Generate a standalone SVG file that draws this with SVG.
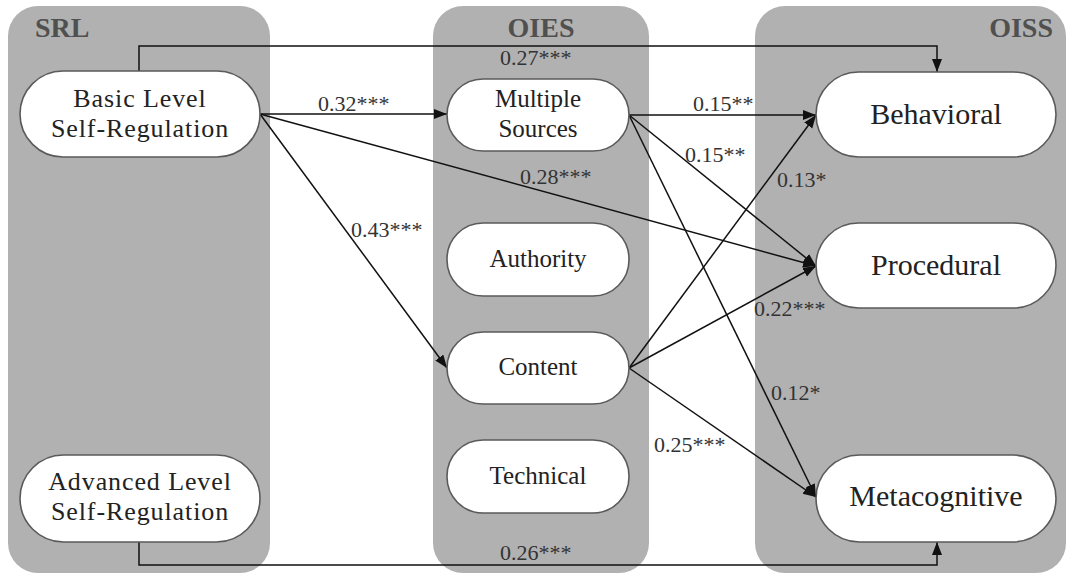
<svg xmlns="http://www.w3.org/2000/svg" width="1070" height="574" viewBox="0 0 1070 574">
<defs>
<marker id="arr" markerUnits="userSpaceOnUse" markerWidth="14" markerHeight="12" refX="13" refY="5" orient="auto">
<path d="M0,0 L13,5 L0,10 Z" fill="#111"/>
</marker>
<style>
.panel{fill:#b1b1b1;}
.ptitle{font-family:"Liberation Serif","Times New Roman",serif;font-weight:bold;font-size:28px;fill:#505050;}
.node{fill:#fff;stroke:#5a5a5a;stroke-width:1.6;}
.srl{font-family:"Liberation Serif","Times New Roman",serif;font-size:26px;letter-spacing:0.9px;fill:#222;text-anchor:middle;}
.oies{font-family:"Liberation Serif","Times New Roman",serif;font-size:25px;fill:#222;text-anchor:middle;}
.oiss{font-family:"Liberation Serif","Times New Roman",serif;font-size:30px;fill:#222;text-anchor:middle;}
.edge{fill:none;stroke:#111;stroke-width:1.5;marker-end:url(#arr);}
.lbl{font-family:"Liberation Serif","Times New Roman",serif;font-size:22px;fill:#333;}
</style>
</defs>
<g id="panels">
<rect class="panel" x="8" y="6" width="262" height="567" rx="30"/>
<rect class="panel" x="433" y="6" width="216" height="567" rx="30"/>
<rect class="panel" x="755" y="6" width="311" height="567" rx="30"/>
<text class="ptitle" x="35" y="37">SRL</text>
<text class="ptitle" x="541" y="37" text-anchor="middle">OIES</text>
<text class="ptitle" x="1053" y="37" text-anchor="end">OISS</text>
</g>
<g id="connectors">
<path class="edge" d="M139,71 V46 H937 V72"/>
<path class="edge" d="M139,542 V565 H937 V542"/>
<line class="edge" x1="260" y1="114" x2="447" y2="114"/>
<line class="edge" x1="260" y1="114" x2="816" y2="266"/>
<line class="edge" x1="260" y1="114" x2="447" y2="368"/>
<line class="edge" x1="629" y1="115" x2="816" y2="115"/>
<line class="edge" x1="629" y1="115" x2="816" y2="266"/>
<line class="edge" x1="629" y1="115" x2="816" y2="497"/>
<line class="edge" x1="629" y1="368" x2="816" y2="115"/>
<line class="edge" x1="629" y1="368" x2="816" y2="266"/>
<line class="edge" x1="629" y1="368" x2="816" y2="497"/>
</g>
<g id="labels">
<text class="lbl" x="500" y="65">0.27***</text>
<text class="lbl" x="500" y="560">0.26***</text>
<text class="lbl" x="318" y="111">0.32***</text>
<text class="lbl" x="520" y="184">0.28***</text>
<text class="lbl" x="351" y="237">0.43***</text>
<text class="lbl" x="693" y="111">0.15**</text>
<text class="lbl" x="685" y="162">0.15**</text>
<text class="lbl" x="777" y="187">0.13*</text>
<text class="lbl" x="754" y="316">0.22***</text>
<text class="lbl" x="771" y="400">0.12*</text>
<text class="lbl" x="654" y="452">0.25***</text>
</g>
<g id="node-basic">
<rect class="node" x="20" y="71" width="240" height="86" rx="43"/>
<text class="srl" x="140" y="107">Basic Level</text>
<text class="srl" x="140" y="137">Self-Regulation</text>
</g>
<g id="node-advanced">
<rect class="node" x="20" y="455" width="240" height="87" rx="43.5"/>
<text class="srl" x="140" y="490">Advanced Level</text>
<text class="srl" x="140" y="520">Self-Regulation</text>
</g>
<g id="node-multiple">
<rect class="node" x="447" y="79" width="182" height="72" rx="36"/>
<text class="oies" x="538" y="107">Multiple</text>
<text class="oies" x="538" y="137">Sources</text>
</g>
<g id="node-authority">
<rect class="node" x="447" y="223" width="182" height="73" rx="36"/>
<text class="oies" x="538" y="267">Authority</text>
</g>
<g id="node-content">
<rect class="node" x="447" y="332" width="182" height="72" rx="36"/>
<text class="oies" x="538" y="375">Content</text>
</g>
<g id="node-technical">
<rect class="node" x="447" y="440" width="182" height="73" rx="36"/>
<text class="oies" x="538" y="484">Technical</text>
</g>
<g id="node-behavioral">
<rect class="node" x="816" y="72" width="240" height="85" rx="42.5"/>
<text class="oiss" x="936" y="124">Behavioral</text>
</g>
<g id="node-procedural">
<rect class="node" x="816" y="223" width="240" height="85" rx="42.5"/>
<text class="oiss" x="936" y="275">Procedural</text>
</g>
<g id="node-metacognitive">
<rect class="node" x="816" y="455" width="240" height="87" rx="43.5"/>
<text class="oiss" x="936" y="506">Metacognitive</text>
</g>
</svg>
